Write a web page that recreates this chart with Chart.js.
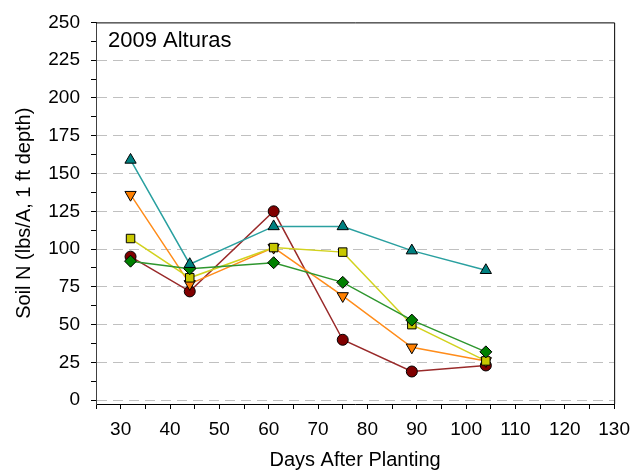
<!DOCTYPE html>
<html>
<head>
<meta charset="utf-8">
<title>2009 Alturas</title>
<script src="https://cdn.jsdelivr.net/npm/chart.js@4.4.1/dist/chart.umd.min.js"></script>
<style>
  body { margin: 0; background: #fff; }
  #wrap { width: 639px; height: 475px; }
</style>
</head>
<body>
<div id="wrap"><canvas id="chart1" width="639" height="475"></canvas></div>
<script>
// days after planting (sample dates)
const days = [32, 44, 61, 75, 89, 104];

// soil N values, one list per treatment
const redCircle = [95, 72, 125, 40, 19, 23];
const orangeDown = [136, 77, 101, 69, 35, 26];
const yellowSquare = [107, 81, 101, 98, 50, 26];
const greenDiamond = [92, 87, 91, 78, 53, 32];
const tealUp = [159, 90, 115, 115, 99, 86];

// axis ticks
const xTicks = [30, 40, 50, 60, 70, 80, 90, 100, 110, 120, 130];
const yTicks = [0, 25, 50, 75, 100, 125, 150, 175, 200, 225, 250];

const font = 'Liberation Sans, Arial, sans-serif';

function toPoints(vals) {
  return vals.map((v, i) => ({x: days[i], y: v}));
}

function series(vals, line, fill, shape, size, rot) {
  return {
    data: toPoints(vals),
    borderColor: line,
    borderWidth: 1.5,
    pointStyle: shape,
    pointRadius: size,
    pointRotation: rot || 0,
    pointBackgroundColor: fill,
    pointBorderColor: '#000',
    pointBorderWidth: 1,
    tension: 0
  };
}

// box round the plot + the site label
const frame = {
  id: 'frame',
  afterDraw(chart) {
    const {ctx, chartArea: a} = chart;
    ctx.save();
    ctx.strokeStyle = '#000';
    ctx.lineWidth = 1;
    ctx.beginPath();
    ctx.moveTo(a.left, a.top + 0.5);
    ctx.lineTo(a.right + 0.5, a.top + 0.5);
    ctx.lineTo(a.right + 0.5, a.bottom);
    ctx.stroke();
    ctx.fillStyle = '#000';
    ctx.font = '22px ' + font;
    ctx.textBaseline = 'alphabetic';
    ctx.fillText('2009 Alturas', a.left + 12, 47);
    ctx.restore();
  }
};

// Excel draws later series on top, chart.js draws the first one on top
const datasets = [
  series(tealUp, '#2aa0a0', '#008080', 'triangle', 6.5),
  series(greenDiamond, '#2e962e', '#008000', 'rectRot', 6),
  series(yellowSquare, '#d2d21e', '#c8c800', 'rect', 6),
  series(orangeDown, '#ff8c1a', '#ff8000', 'triangle', 6.5, 180),
  series(redCircle, '#992a2a', '#800000', 'circle', 5.5)
];

const chart1 = new Chart('chart1', {
  type: 'line',
  data: {datasets: datasets},
  options: {
    responsive: false,
    animation: false,
    devicePixelRatio: 1,
    layout: {padding: {top: 18, right: 20, left: 0, bottom: 0}},
    plugins: {legend: {display: false}, tooltip: {enabled: false}},
    scales: {
      x: {
        type: 'linear',
        min: 25,
        max: 130,
        afterBuildTicks: (s) => {
          const t = [];
          for (let v = 25; v <= 130; v += 5) t.push({value: v});
          s.ticks = t;
        },
        afterFit: (s) => { s.height = 71; },
        grid: {drawOnChartArea: false, tickLength: 5, tickColor: '#000'},
        border: {color: '#000', width: 1},
        ticks: {
          autoSkip: false,
          maxRotation: 0,
          padding: 9,
          color: '#000',
          font: {family: font, size: 19},
          callback: (v) => xTicks.includes(v) ? String(v) : ''
        },
        title: {
          display: true,
          text: 'Days After Planting',
          color: '#000',
          font: {family: font, size: 20},
          padding: {top: 0, bottom: 3}
        }
      },
      y: {
        min: -2.5,
        max: 250,
        afterBuildTicks: (s) => {
          const t = [];
          for (let v = 0; v <= 250; v += 12.5) t.push({value: v});
          s.ticks = t;
        },
        afterFit: (s) => { s.width = 96; },
        grid: {
          tickLength: 5,
          tickColor: '#000',
          color: (c) => (c.tick && yTicks.includes(c.tick.value) && c.tick.value < 250) ? '#c0c0c0' : 'rgba(0,0,0,0)'
        },
        border: {color: '#404040', width: 1, dash: [10, 6]},
        ticks: {
          autoSkip: false,
          padding: 11,
          color: '#000',
          font: {family: font, size: 19},
          callback: (v) => yTicks.includes(v) ? String(v) : ''
        },
        title: {
          display: true,
          text: 'Soil N (lbs/A, 1 ft depth)',
          color: '#000',
          font: {family: font, size: 20},
          padding: {top: 12, bottom: 0}
        }
      }
    }
  },
  plugins: [frame]
});
</script>
</body>
</html>
